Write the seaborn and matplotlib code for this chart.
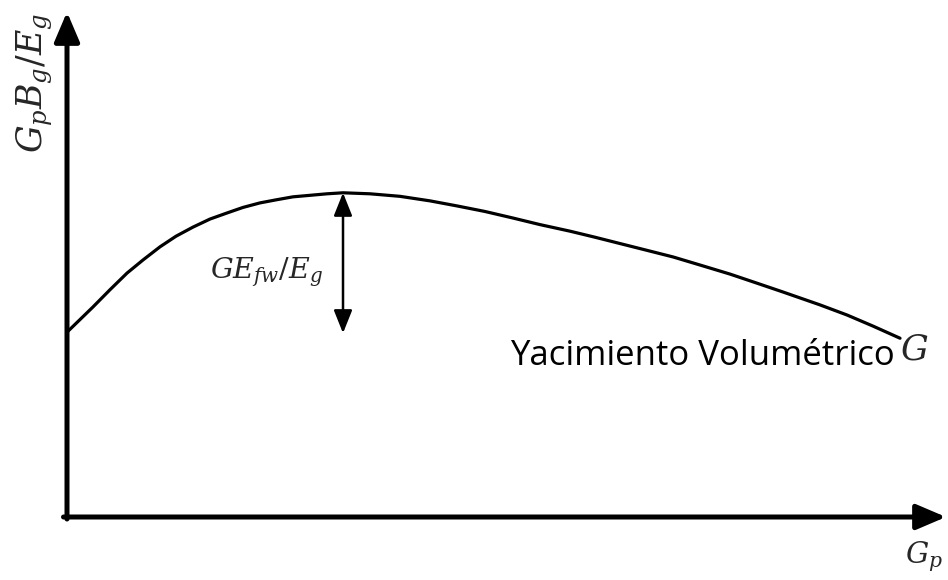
import matplotlib
matplotlib.use("Agg")
import matplotlib.pyplot as plt
import seaborn as sns
import pandas as pd

# Cumulative gas production (Gp) and Gp*Bg/Eg for a volumetric reservoir
gp = [0.0, 0.296, 0.489, 0.683, 0.865, 1.058, 1.240, 1.433, 1.627,
      1.820, 2.002, 2.196, 2.378, 2.571, 2.765, 2.958, 3.140, 3.447, 3.788,
      4.130, 4.437, 4.755, 5.074, 5.381, 5.722, 6.007, 6.257, 6.576, 6.894,
      7.201, 7.543, 7.850, 8.146, 8.567, 8.874, 9.170, 9.477]
gpbg_eg = [3.66, 4.16, 4.50, 4.83, 5.09, 5.35, 5.56, 5.74, 5.90,
           6.02, 6.13, 6.22, 6.28, 6.34, 6.37, 6.40, 6.42, 6.40, 6.35,
           6.26, 6.16, 6.05, 5.92, 5.79, 5.66, 5.54, 5.43, 5.29, 5.15,
           4.99, 4.81, 4.63, 4.455, 4.20, 4.00, 3.78, 3.54]

# Extent of the water-influx term GE_fw/E_g at the maximum
peak_gp = 3.14
peak_top = 6.42
peak_bottom = 3.64

curve = pd.DataFrame({"Gp": gp, "GpBg_Eg": gpbg_eg})

sns.set_theme(style="white")
plt.rcParams["mathtext.fontset"] = "dejavuserif"
plt.rcParams["font.family"] = ["Open Sans", "DejaVu Sans"]

fig = plt.figure(figsize=(9.48, 5.8), dpi=100)
ax = fig.add_axes([67 / 948, 63 / 580, 879 / 948, 505 / 580])
ax.set_xlim(0, 10)
ax.set_ylim(0, 10)
ax.set_axis_off()

sns.lineplot(data=curve, x="Gp", y="GpBg_Eg", ax=ax, color="black",
             linewidth=2.3, sort=False, estimator=None)

# Axes drawn as arrows
axis_arrow = dict(arrowstyle="-|>,head_length=0.75,head_width=0.32", lw=3.6,
                  color="black", shrinkA=0, shrinkB=0, mutation_scale=24)
ax.annotate("", xy=(1.0, 0.0), xytext=(-0.004, 0.0), xycoords="axes fraction",
            arrowprops=axis_arrow, annotation_clip=False)
ax.annotate("", xy=(0.0, 1.0), xytext=(0.0, -0.004), xycoords="axes fraction",
            arrowprops=axis_arrow, annotation_clip=False)

# Double-headed arrow below the maximum
ax.annotate("", xy=(peak_gp, peak_top), xytext=(peak_gp, peak_bottom),
            arrowprops=dict(arrowstyle="<|-|>,head_length=0.7,head_width=0.28",
                            lw=1.8, color="black", shrinkA=0, shrinkB=0,
                            mutation_scale=20))

ax.text(2.91, 4.85, r"$GE_{fw}/E_g$", fontsize=20.5, ha="right", va="center")
ax.text(9.42, 3.01, "Yacimiento Volumétrico", fontsize=25, ha="right",
        va="baseline", color="black")
ax.text(9.48, 3.11, r"$G$", fontsize=25, ha="left", va="baseline")
ax.text(9.53, -0.91, r"$G_p$", fontsize=21, ha="left", va="baseline",
        clip_on=False)
ax.text(-0.37, 8.59, r"$G_pB_g/E_g$", fontsize=25, ha="center", va="center",
        rotation=90, clip_on=False)

fig.savefig("out.png", dpi=100)
